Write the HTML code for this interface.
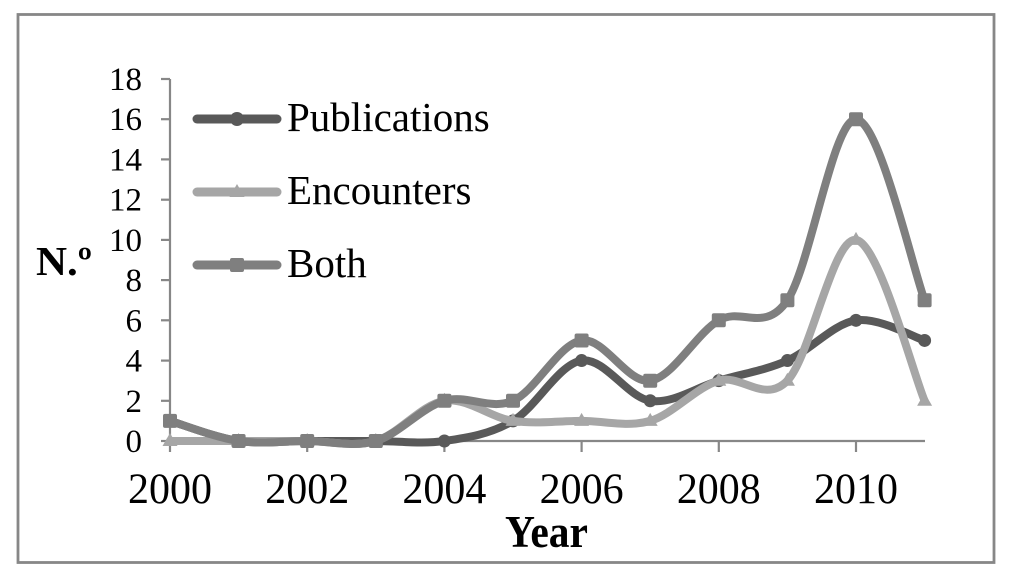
<!DOCTYPE html>
<html>
<head>
<meta charset="utf-8">
<style>
  html,body{margin:0;padding:0;background:#fff;}
  body{width:1018px;height:569px;overflow:hidden;}
  svg{display:block;}
  text{font-family:"Liberation Serif",serif;fill:#000;}
</style>
</head>
<body>
<svg width="1018" height="569" viewBox="0 0 1018 569" xmlns="http://www.w3.org/2000/svg">
  <rect x="0" y="0" width="1018" height="569" fill="#fff"/>
  <!-- outer border -->
  <rect x="18" y="14.5" width="976" height="548" fill="none" stroke="#878787" stroke-width="2.8"/>

  <!-- axes -->
  <g stroke="#878787" stroke-width="2.2" fill="none">
    <line x1="170" y1="79" x2="170" y2="452"/>
    <line x1="169" y1="441" x2="925" y2="441"/>
    <!-- y ticks -->
    <line x1="161" y1="79" x2="170" y2="79"/>
    <line x1="161" y1="119.2" x2="170" y2="119.2"/>
    <line x1="161" y1="159.4" x2="170" y2="159.4"/>
    <line x1="161" y1="199.7" x2="170" y2="199.7"/>
    <line x1="161" y1="239.9" x2="170" y2="239.9"/>
    <line x1="161" y1="280.1" x2="170" y2="280.1"/>
    <line x1="161" y1="320.3" x2="170" y2="320.3"/>
    <line x1="161" y1="360.6" x2="170" y2="360.6"/>
    <line x1="161" y1="400.8" x2="170" y2="400.8"/>
    <line x1="161" y1="441" x2="170" y2="441"/>
    <!-- x ticks (even years) -->
    <line x1="307.2" y1="441" x2="307.2" y2="452"/>
    <line x1="444.4" y1="441" x2="444.4" y2="452"/>
    <line x1="581.6" y1="441" x2="581.6" y2="452"/>
    <line x1="718.8" y1="441" x2="718.8" y2="452"/>
    <line x1="856" y1="441" x2="856" y2="452"/>
  </g>

  <!-- y labels -->
  <g font-size="33" text-anchor="end">
    <text x="142" y="90">18</text>
    <text x="142" y="130.2">16</text>
    <text x="142" y="170.4">14</text>
    <text x="142" y="210.7">12</text>
    <text x="142" y="250.9">10</text>
    <text x="142" y="291.1">8</text>
    <text x="142" y="331.3">6</text>
    <text x="142" y="371.6">4</text>
    <text x="142" y="411.8">2</text>
    <text x="142" y="452">0</text>
  </g>

  <!-- x labels -->
  <g font-size="42" text-anchor="middle">
    <text transform="translate(170,503) scale(1,1.04)">2000</text>
    <text transform="translate(307.2,503) scale(1,1.04)">2002</text>
    <text transform="translate(444.4,503) scale(1,1.04)">2004</text>
    <text transform="translate(581.6,503) scale(1,1.04)">2006</text>
    <text transform="translate(718.8,503) scale(1,1.04)">2008</text>
    <text transform="translate(856,503) scale(1,1.04)">2010</text>
  </g>

  <!-- axis titles -->
  <text x="36" y="275" font-size="41" font-weight="bold" textLength="56" lengthAdjust="spacingAndGlyphs">N.º</text>
  <text x="505" y="547" font-size="45" font-weight="bold" textLength="83" lengthAdjust="spacingAndGlyphs">Year</text>

  <!-- series: Publications -->
  <path fill="none" stroke="#595959" stroke-width="8" stroke-linecap="round" stroke-linejoin="round"
    d="M170,420.89
       C181.43,424.24 215.73,437.65 238.6,441
       C261.47,444.35 284.33,441 307.2,441
       C330.07,441 352.93,441 375.8,441
       C398.67,441 421.53,444.35 444.4,441
       C467.27,437.65 490.13,434.30 513,420.89
       C535.87,407.48 558.73,363.91 581.6,360.56
       C604.47,357.20 627.33,397.42 650.2,400.78
       C673.07,404.13 695.93,387.37 718.8,380.67
       C741.67,373.96 764.53,370.61 787.4,360.56
       C810.27,350.50 833.13,323.69 856,320.33
       C878.87,316.98 913.17,337.09 924.6,340.45"/>
  <g fill="#595959">
    <circle cx="170" cy="420.89" r="6.5"/>
    <circle cx="238.6" cy="441" r="6.5"/>
    <circle cx="307.2" cy="441" r="6.5"/>
    <circle cx="375.8" cy="441" r="6.5"/>
    <circle cx="444.4" cy="441" r="6.5"/>
    <circle cx="513" cy="420.89" r="6.5"/>
    <circle cx="581.6" cy="360.56" r="6.5"/>
    <circle cx="650.2" cy="400.78" r="6.5"/>
    <circle cx="718.8" cy="380.67" r="6.5"/>
    <circle cx="787.4" cy="360.56" r="6.5"/>
    <circle cx="856" cy="320.33" r="6.5"/>
    <circle cx="924.6" cy="340.45" r="6.5"/>
  </g>

  <!-- series: Encounters -->
  <path fill="none" stroke="#a6a6a6" stroke-width="8" stroke-linecap="round" stroke-linejoin="round"
    d="M170,441
       C181.43,441 215.73,441 238.6,441
       C261.47,441 284.33,441 307.2,441
       C330.07,441 352.93,447.70 375.8,441
       C398.67,434.30 421.53,404.13 444.4,400.78
       C467.27,397.42 490.13,417.54 513,420.89
       C535.87,424.24 558.73,420.89 581.6,420.89
       C604.47,420.89 627.33,427.59 650.2,420.89
       C673.07,414.19 695.93,387.37 718.8,380.67
       C741.67,373.96 764.53,404.13 787.4,380.67
       C810.27,357.20 833.13,236.54 856,239.89
       C878.87,243.24 913.17,373.96 924.6,400.78"/>
  <g fill="#a6a6a6">
    <polygon points="170,433 177.5,446 162.5,446"/>
    <polygon points="238.6,433 246.1,446 231.1,446"/>
    <polygon points="307.2,433 314.7,446 299.7,446"/>
    <polygon points="375.8,433 383.3,446 368.3,446"/>
    <polygon points="444.4,392.8 451.9,405.8 436.9,405.8"/>
    <polygon points="513,412.9 520.5,425.9 505.5,425.9"/>
    <polygon points="581.6,412.9 589.1,425.9 574.1,425.9"/>
    <polygon points="650.2,412.9 657.7,425.9 642.7,425.9"/>
    <polygon points="718.8,372.7 726.3,385.7 711.3,385.7"/>
    <polygon points="787.4,372.7 794.9,385.7 779.9,385.7"/>
    <polygon points="856,231.9 863.5,244.9 848.5,244.9"/>
    <polygon points="924.6,392.8 932.1,405.8 917.1,405.8"/>
  </g>

  <!-- series: Both -->
  <path fill="none" stroke="#7f7f7f" stroke-width="8" stroke-linecap="round" stroke-linejoin="round"
    d="M170,420.89
       C181.43,424.24 215.73,437.65 238.6,441
       C261.47,444.35 284.33,441 307.2,441
       C330.07,441 352.93,447.70 375.8,441
       C398.67,434.30 421.53,407.48 444.4,400.78
       C467.27,394.07 490.13,410.83 513,400.78
       C535.87,390.72 558.73,343.80 581.6,340.45
       C604.47,337.09 627.33,384.02 650.2,380.67
       C673.07,377.31 695.93,333.74 718.8,320.33
       C741.67,306.93 764.53,333.74 787.4,300.22
       C810.27,266.71 833.13,119.22 856,119.22
       C878.87,119.22 913.17,270.06 924.6,300.22"/>
  <g fill="#7f7f7f">
    <rect x="163" y="413.9" width="14" height="14" rx="2"/>
    <rect x="231.6" y="434" width="14" height="14" rx="2"/>
    <rect x="300.2" y="434" width="14" height="14" rx="2"/>
    <rect x="368.8" y="434" width="14" height="14" rx="2"/>
    <rect x="437.4" y="393.8" width="14" height="14" rx="2"/>
    <rect x="506" y="393.8" width="14" height="14" rx="2"/>
    <rect x="574.6" y="333.5" width="14" height="14" rx="2"/>
    <rect x="643.2" y="373.7" width="14" height="14" rx="2"/>
    <rect x="711.8" y="313.3" width="14" height="14" rx="2"/>
    <rect x="780.4" y="293.2" width="14" height="14" rx="2"/>
    <rect x="849" y="112.2" width="14" height="14" rx="2"/>
    <rect x="917.6" y="293.2" width="14" height="14" rx="2"/>
  </g>

  <!-- legend -->
  <line x1="197" y1="119" x2="277" y2="119" stroke="#595959" stroke-width="9" stroke-linecap="round"/>
  <circle cx="237" cy="119" r="7" fill="#595959"/>
  <text x="287" y="131" font-size="41">Publications</text>

  <line x1="197" y1="192" x2="277" y2="192" stroke="#a6a6a6" stroke-width="9" stroke-linecap="round"/>
  <polygon points="237,184 244.5,197 229.5,197" fill="#a6a6a6"/>
  <text x="287" y="204" font-size="41">Encounters</text>

  <line x1="197" y1="265" x2="277" y2="265" stroke="#7f7f7f" stroke-width="9" stroke-linecap="round"/>
  <rect x="230" y="258" width="14" height="14" rx="2" fill="#7f7f7f"/>
  <text x="287" y="277" font-size="41">Both</text>
</svg>
</body>
</html>
